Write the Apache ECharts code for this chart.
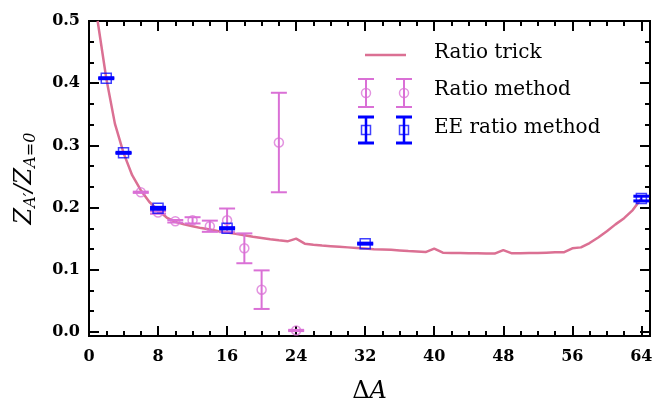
<!DOCTYPE html>
<html>
<head>
<meta charset="utf-8">
<script src="https://cdn.jsdelivr.net/npm/echarts@6.0.0/dist/echarts.min.js"></script>
<style>
html, body { margin: 0; padding: 0; background: #fff; }
#main { width: 656px; height: 398px; }
</style>
</head>
<body>
<div id="main"></div>
<script>
// Ratio trick curve (one value per ΔA = 1..64)
var trickX = [];
for (var i = 1; i <= 64; i++) trickX.push(i);
var trickY = [0.500, 0.408, 0.335, 0.288, 0.252, 0.228, 0.209, 0.196, 0.184, 0.177,
              0.173, 0.170, 0.167, 0.1646, 0.162, 0.160, 0.1577, 0.1554, 0.153, 0.151,
              0.149, 0.1473, 0.1457, 0.150, 0.142, 0.1404, 0.139, 0.138, 0.137, 0.136,
              0.135, 0.134, 0.133, 0.1325, 0.132, 0.131, 0.130, 0.1295, 0.1285, 0.134,
              0.1275, 0.127, 0.127, 0.1265, 0.1265, 0.126, 0.126, 0.1317, 0.1264, 0.1265,
              0.127, 0.127, 0.1275, 0.128, 0.128, 0.1345, 0.136, 0.143, 0.152, 0.162,
              0.173, 0.183, 0.196, 0.2145];

// Ratio method
var ratioX = [6, 8, 10, 12, 14, 16, 18, 20, 22, 24];
var ratioY = [0.2246, 0.192, 0.178, 0.1795, 0.170, 0.1795, 0.1345, 0.068, 0.3046, 0.0024];
var ratioErr = [0.001, 0.002, 0.002, 0.005, 0.009, 0.019, 0.024, 0.031, 0.080, 0.001];

// EE ratio method
var eeX = [2, 4, 8, 16, 32, 64];
var eeY = [0.408, 0.288, 0.1989, 0.1667, 0.142, 0.2145];
var eeErr = [0.0008, 0.0008, 0.0015, 0.001, 0.0008, 0.0038];

var xTicks = [0, 8, 16, 24, 32, 40, 48, 56, 64];
var yTicks = [0, 0.1, 0.2, 0.3, 0.4, 0.5];

var PINK = '#DB7093', ORCHID = '#DA70D6', BLUE = '#0000FF';
var SERIF = 'DejaVu Serif';

var xMinor = [];
for (var v = 2; v < 64; v += 2) if (v % 8 !== 0) xMinor.push(v);
var yMinor = [];
for (var k = 0; k < 5; k++) { yMinor.push(k / 10 + 1 / 30); yMinor.push(k / 10 + 2 / 30); }

var trickData = trickX.map(function (x, i) { return [x, trickY[i]]; });
var ratioPts = ratioX.map(function (x, i) { return [x, ratioY[i]]; });
var ratioBars = ratioX.map(function (x, i) { return [x, ratioY[i] - ratioErr[i], ratioY[i] + ratioErr[i]]; });
var eePts = eeX.map(function (x, i) { return [x, eeY[i]]; });
var eeBars = eeX.map(function (x, i) { return [x, eeY[i] - eeErr[i], eeY[i] + eeErr[i]]; });

function errorBars(color, barW, capW, capHalf) {
    return function (params, api) {
        var lo = api.coord([api.value(0), api.value(1)]);
        var hi = api.coord([api.value(0), api.value(2)]);
        return {
            type: 'group',
            children: [
                { type: 'line', shape: { x1: lo[0], y1: lo[1], x2: hi[0], y2: hi[1] },
                  style: { stroke: color, lineWidth: barW } },
                { type: 'line', shape: { x1: lo[0] - capHalf, y1: lo[1], x2: lo[0] + capHalf, y2: lo[1] },
                  style: { stroke: color, lineWidth: capW } },
                { type: 'line', shape: { x1: hi[0] - capHalf, y1: hi[1], x2: hi[0] + capHalf, y2: hi[1] },
                  style: { stroke: color, lineWidth: capW } }
            ]
        };
    };
}

function xAx(pos, values, len, labels) {
    return {
        type: 'value', min: 0, max: 65, position: pos,
        axisLine: { show: true, onZero: false, lineStyle: { color: '#000', width: 2 } },
        axisTick: { show: true, inside: true, length: len, customValues: values, lineStyle: { color: '#000', width: 2 } },
        axisLabel: { show: labels, customValues: values, margin: 13, color: '#000',
                     fontFamily: SERIF, fontWeight: 'bold', fontSize: 16 },
        splitLine: { show: false }
    };
}
function yAx(pos, values, len, labels) {
    return {
        type: 'value', min: -0.0065, max: 0.5, position: pos,
        axisLine: { show: true, onZero: false, lineStyle: { color: '#000', width: 2 } },
        axisTick: { show: true, inside: true, length: len, customValues: values, lineStyle: { color: '#000', width: 2 } },
        axisLabel: { show: labels, customValues: values, margin: 9, color: '#000',
                     fontFamily: SERIF, fontWeight: 'bold', fontSize: 16,
                     formatter: function (v) { return v.toFixed(1); } },
        splitLine: { show: false }
    };
}

var xMain = xAx('bottom', xTicks, 10, true);
xMain.name = '{u|Δ}{i|A}';
xMain.nameLocation = 'middle';
xMain.nameGap = 44;
xMain.nameTextStyle = { rich: {
    u: { fontFamily: SERIF, fontSize: 24, color: '#000' },
    i: { fontFamily: SERIF, fontStyle: 'italic', fontSize: 24, color: '#000' }
} };

var yMain = yAx('left', yTicks, 10, true);
yMain.name = '{z|Z}{s|A′}{z|/Z}{s|A=0}';
yMain.nameLocation = 'middle';
yMain.nameRotate = 90;
yMain.nameGap = 50;
yMain.nameTextStyle = { rich: {
    z: { fontFamily: SERIF, fontStyle: 'italic', fontSize: 24, lineHeight: 28, color: '#000' },
    s: { fontFamily: SERIF, fontStyle: 'italic', fontSize: 16, lineHeight: 10, verticalAlign: 'bottom', color: '#000' }
} };

var myChart = echarts.init(document.getElementById('main'), null, { renderer: 'canvas' });
var option = {
    animation: false,
    backgroundColor: '#fff',
    grid: { left: 89, right: 6, top: 21, bottom: 62, containLabel: false, outerBoundsMode: 'none' },
    xAxis: [
        xMain,
        xAx('top', xTicks, 10, false),
        xAx('bottom', xMinor, 5, false),
        xAx('top', xMinor, 5, false)
    ],
    yAxis: [
        yMain,
        yAx('right', yTicks, 10, false),
        yAx('left', yMinor, 5, false),
        yAx('right', yMinor, 5, false)
    ],
    series: [
        {
            name: 'Ratio trick', type: 'line', data: trickData, showSymbol: false,
            lineStyle: { color: PINK, width: 2.5 }, itemStyle: { color: PINK }, z: 2
        },
        {
            name: 'Ratio method', type: 'custom', data: ratioBars,
            encode: { x: 0, y: [1, 2] }, renderItem: errorBars(ORCHID, 2, 2, 8), z: 3
        },
        {
            name: 'Ratio method', type: 'scatter', data: ratioPts, symbol: 'circle', symbolSize: 9,
            itemStyle: { color: 'transparent', borderColor: ORCHID, borderWidth: 1.5, opacity: 0.75 }, z: 4
        },
        {
            name: 'EE ratio method', type: 'custom', data: eeBars,
            encode: { x: 0, y: [1, 2] }, renderItem: errorBars(BLUE, 2, 3, 8), z: 5
        },
        {
            name: 'EE ratio method', type: 'scatter', data: eePts, symbol: 'rect', symbolSize: 10,
            itemStyle: { color: 'transparent', borderColor: BLUE, borderWidth: 1.5, opacity: 0.75 }, z: 6
        }
    ],
    graphic: [
        { type: 'line', shape: { x1: 365, y1: 55, x2: 406, y2: 55 }, style: { stroke: PINK, lineWidth: 2.5 } },
        { type: 'text', left: 434, top: 43, style: { text: 'Ratio trick', font: '20px "DejaVu Serif"', fill: '#000' } },
        { type: 'text', left: 434, top: 80, style: { text: 'Ratio method', font: '20px "DejaVu Serif"', fill: '#000' } },
        { type: 'text', left: 434, top: 118, style: { text: 'EE ratio method', font: '20px "DejaVu Serif"', fill: '#000' } }
    ]
};

// legend markers with error bars, two per entry
[366, 404].forEach(function (cx) {
    option.graphic.push(
        { type: 'line', shape: { x1: cx, y1: 79, x2: cx, y2: 107 }, style: { stroke: ORCHID, lineWidth: 2 } },
        { type: 'line', shape: { x1: cx - 8, y1: 79, x2: cx + 8, y2: 79 }, style: { stroke: ORCHID, lineWidth: 2 } },
        { type: 'line', shape: { x1: cx - 8, y1: 107, x2: cx + 8, y2: 107 }, style: { stroke: ORCHID, lineWidth: 2 } },
        { type: 'circle', shape: { cx: cx, cy: 93, r: 4.5 }, style: { fill: 'none', stroke: ORCHID, lineWidth: 1.5, opacity: 0.75 } },
        { type: 'line', shape: { x1: cx, y1: 117, x2: cx, y2: 143 }, style: { stroke: BLUE, lineWidth: 2.5 } },
        { type: 'line', shape: { x1: cx - 8, y1: 117, x2: cx + 8, y2: 117 }, style: { stroke: BLUE, lineWidth: 3 } },
        { type: 'line', shape: { x1: cx - 8, y1: 143, x2: cx + 8, y2: 143 }, style: { stroke: BLUE, lineWidth: 3 } },
        { type: 'rect', shape: { x: cx - 4.5, y: 125.5, width: 9, height: 9 }, style: { fill: 'none', stroke: BLUE, lineWidth: 1.5, opacity: 0.75 } }
    );
});

myChart.setOption(option);
window.onresize = myChart.resize;
</script>
</body>
</html>
